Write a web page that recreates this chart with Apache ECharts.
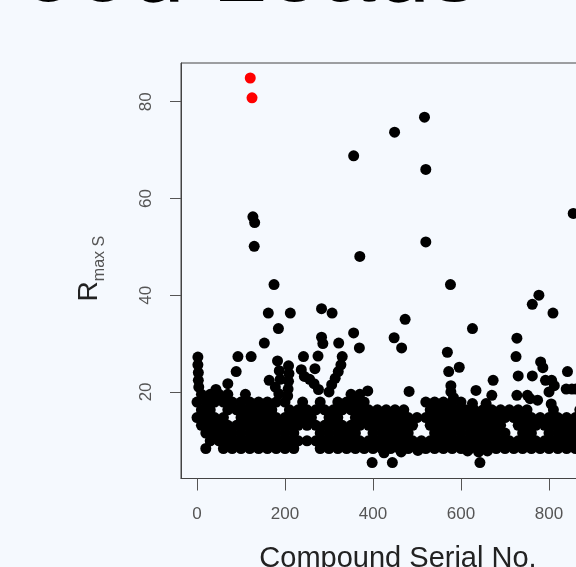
<!DOCTYPE html>
<html>
<head>
<meta charset="utf-8">
<script src="https://cdn.jsdelivr.net/npm/echarts@6/dist/echarts.min.js"></script>
<style>
  html, body { margin:0; padding:0; background:#f5f9fe; }
  #chart { width:576px; height:567px; }
</style>
</head>
<body>
<div id="chart"></div>
<script>
// ---- data ----
const titleText = 'Good Leads';
const xAxisTitle = 'Compound Serial No.';
const xTickValues = [0, 200, 400, 600, 800];
const yTickValues = [20, 40, 60, 80];

// dense band of compounds, grouped by R value level
const bandLevels = [8.3, 9.9, 11.5, 13.1, 14.7, 16.3, 17.9, 19.5];
const band8_3 = [20,60,80,100,120,140,160,180,200,220,280,300,320,340,360,380,400,420,440,460,480,500,520,540,560,580,600,620,640,660,680,700,720,740,760,780,800,820,840,860,880,900];
const band9_9 = [30,50,70,90,110,130,150,170,190,210,230,250,270,290,310,330,350,370,390,410,430,450,470,490,510,530,550,570,590,610,630,650,670,690,710,730,750,770,790,810,830,850,870,890];
const band11_5 = [20,40,60,80,100,120,140,160,180,200,220,280,300,320,340,360,400,420,440,460,480,540,560,580,600,620,640,660,680,700,740,760,800,820,840,860,880,900];
const band13_1 = [10,30,50,70,90,110,130,150,170,190,210,230,250,270,290,310,330,350,370,390,410,430,450,470,490,530,550,570,590,610,630,650,670,690,730,750,770,790,810,830,850,870,890];
const band14_7 = [0,20,40,60,100,120,140,160,180,200,220,240,260,300,320,360,380,400,420,440,460,480,500,520,540,560,580,600,620,640,660,680,700,720,740,760,780,800,820,840,860,880,900];
const band16_3 = [10,30,70,90,110,130,150,170,210,230,250,270,290,310,330,350,370,390,410,430,450,470,530,550,570,590,610,630,650,670,690,710,730,750,810,870];
const band17_9 = [0,20,40,60,80,100,120,140,160,180,200,240,280,320,340,360,380,520,540,560,580,600];
const band19_5 = [10,30,50,70,110,350,370];
const bandRows = [band8_3, band9_9, band11_5, band13_1, band14_7, band16_3, band17_9, band19_5];

// scattered compounds [serial no., R]
const scatterPoints = [
  [2,27.2],[2,25.6],[3,24.0],[3,22.4],[4,21.0],
  [43,20.5],[70,21.7],[89,24.2],[93,27.3],[123,27.3],
  [127,56.2],[131,55.0],[130,50.1],
  [153,30.1],[162,36.3],[164,22.4],[175,42.2],[178,21.0],[183,26.4],[185,33.1],[186,19.6],[187,24.4],[189,22.6],
  [208,25.4],[209,23.8],[208,22.2],[207,20.6],[206,19.2],[212,36.3],
  [237,24.6],[244,23.2],[242,27.3],[256,22.6],[266,21.7],[276,20.5],[268,24.8],[275,27.4],
  [283,31.3],[286,30.0],[283,37.2],[307,36.3],[322,30.1],[330,27.3],[327,25.6],[321,24.2],[314,22.8],[306,21.5],[300,20.0],
  [356,32.2],[356,68.8],[370,48.0],[369,29.1],[388,20.2],[398,5.4],[444,5.4],
  [448,31.2],[449,73.7],[465,29.1],[473,35.0],[482,20.1],
  [517,76.8],[520,66.0],[520,51.0],[569,28.2],[572,24.2],[576,42.2],[577,21.3],[577,20.0],[583,18.8],[596,25.1],
  [626,33.1],[626,17.6],[634,20.3],[643,5.4],[657,17.6],[670,19.3],[673,22.4],
  [725,27.3],[727,31.1],[727,19.3],[730,23.3],[751,19.3],[757,18.6],[762,23.3],[762,38.1],[774,18.3],[777,40.0],
  [781,26.2],[786,25.0],[792,22.4],[800,20.0],[805,17.5],[806,22.4],[809,36.3],[812,21.3],
  [839,20.6],[842,24.2],[852,20.6],[861,20.6],[855,56.9],
  [425,7.4],[464,7.6],[502,7.9],[615,7.8],[640,7.6],[660,7.8]
];

// the two best leads (highlighted in red)
const leadPoints = [[121,84.9],[125,80.8]];

// ---- build ----
const FONT = '"Liberation Sans", Arial, Helvetica, sans-serif';
const blackPoints = [];
bandRows.forEach((xs, i) => xs.forEach(x => blackPoints.push([x, bandLevels[i]])));
scatterPoints.forEach(p => blackPoints.push(p));

const chart = echarts.init(document.getElementById('chart'), null, {renderer: 'canvas'});
chart.setOption({
  animation: false,
  backgroundColor: '#f5f9fe',
  grid: {
    left: 181, top: 63, width: 440, height: 415.5,
    show: true, borderColor: '#444', borderWidth: 1, backgroundColor: 'transparent',
    containLabel: false, outerBoundsMode: 'none'
  },
  xAxis: {
    type: 'value', min: -36.4, max: 963.6,
    splitLine: {show: false},
    axisLine: {show: true, onZero: false, lineStyle: {color: '#444'}},
    axisTick: {show: true, length: 12, customValues: xTickValues, lineStyle: {color: '#555'}},
    axisLabel: {customValues: xTickValues, margin: 27, fontSize: 17, color: '#555', fontFamily: FONT}
  },
  yAxis: {
    type: 'value', min: 2.1, max: 88.0,
    splitLine: {show: false},
    axisLine: {show: true, onZero: false, lineStyle: {color: '#444'}},
    axisTick: {show: true, length: 11, customValues: yTickValues, lineStyle: {color: '#555'}},
    axisLabel: {customValues: yTickValues, rotate: 90, margin: 26, fontSize: 17, color: '#555', fontFamily: FONT}
  },
  graphic: [
    {type: 'text', x: 479, y: -26, style: {text: titleText, font: '98px ' + FONT, fill: '#000', align: 'right', verticalAlign: 'middle'}},
    {type: 'text', x: 398, y: 559, style: {text: xAxisTitle, font: '29px ' + FONT, fill: '#222', align: 'center', verticalAlign: 'middle'}},
    {type: 'text', x: 89, y: 291.5, rotation: Math.PI / 2, style: {text: 'R', font: '28px ' + FONT, fill: '#222', align: 'center', verticalAlign: 'middle'}},
    {type: 'text', x: 100, y: 258.5, rotation: Math.PI / 2, style: {text: 'max S', font: '16px ' + FONT, fill: '#555', align: 'center', verticalAlign: 'middle'}}
  ],
  series: [
    {type: 'scatter', data: blackPoints, symbol: 'circle', symbolSize: 11, itemStyle: {color: '#000', opacity: 1}, silent: true, clip: true},
    {type: 'scatter', data: leadPoints, symbol: 'circle', symbolSize: 11, itemStyle: {color: '#ff0000', opacity: 1}, silent: true, clip: true, z: 3}
  ]
});
</script>
</body>
</html>
